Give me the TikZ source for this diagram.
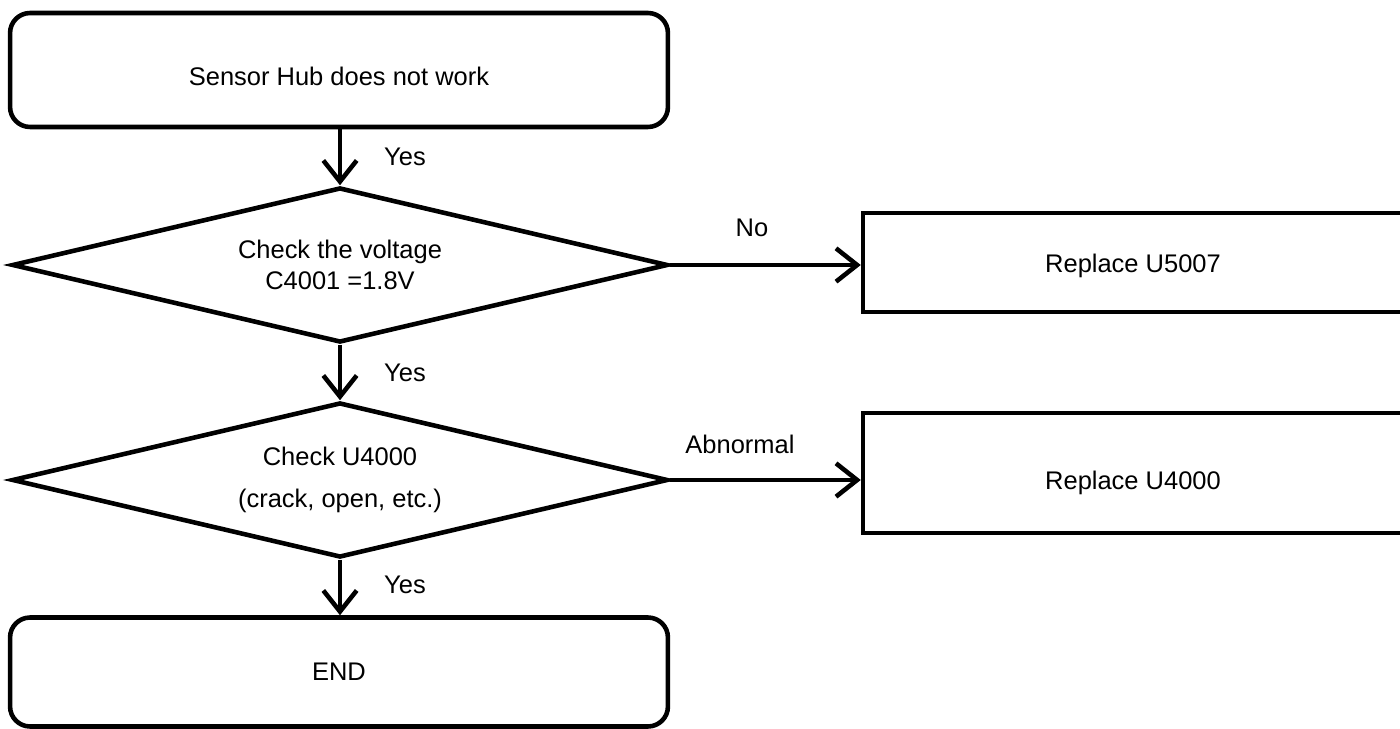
\documentclass[tikz,border=0pt]{standalone}
\usepackage{fontspec}
\setmainfont{Liberation Sans}
\usetikzlibrary{arrows.meta,shapes.geometric}
\begin{document}
\begin{tikzpicture}[x=0.02cm,y=-0.02cm,
  every node/.style={font=\fontsize{14.5}{18}\selectfont},
  rbox/.style={draw,line width=2.6pt,rounded corners=0.4cm,minimum width=13.16cm,inner sep=0pt},
  sbox/.style={draw,line width=2.6pt,minimum width=10.8cm,inner sep=0pt},
  dec/.style={draw,line width=2.6pt,diamond,shape aspect=4.23,minimum width=13.12cm,minimum height=3.1cm,inner sep=0pt,align=center},
  lbl/.style={inner sep=0pt},
  arr/.style={line width=2.6pt,-{Straight Barb[length=12pt,width=19pt,line width=2.6pt]}}]
\useasboundingbox (0,0) rectangle (1400,729);
% nodes
\node[rbox,minimum height=2.28cm] (start) at (339,70) {\rule{0pt}{18pt}Sensor Hub does not work};
\node[dec] (d1) at (340,265) {Check the voltage\\C4001 =1.8V};
\node[dec] (d2) at (340,480) {Check U4000\\[6pt](crack, open, etc.)};
\node[rbox,minimum height=2.18cm] (end) at (339,672) {END};
\node[sbox,minimum height=1.98cm] (r1) at (1133,262.5) {\rule{0pt}{14pt}Replace U5007};
\node[sbox,minimum height=2.4cm] (r2) at (1133,473) {\rule{0pt}{22pt}Replace U4000};
% connectors
\draw[arr] (start.south -| d1.north) -- (d1.north);
\draw[arr] (d1.south) -- (d2.north);
\draw[arr] (d2.south) -- (end.north -| d2.south);
\draw[arr] (d1.east) -- (r1.west |- d1.east);
\draw[arr] (d2.east) -- (r2.west |- d2.east);
% labels
\node[lbl] at (405,157) {Yes};
\node[lbl] at (405,373) {Yes};
\node[lbl] at (405,585) {Yes};
\node[lbl] at (752,228) {No};
\node[lbl] at (740,444) {Abnormal};
\end{tikzpicture}
\end{document}
